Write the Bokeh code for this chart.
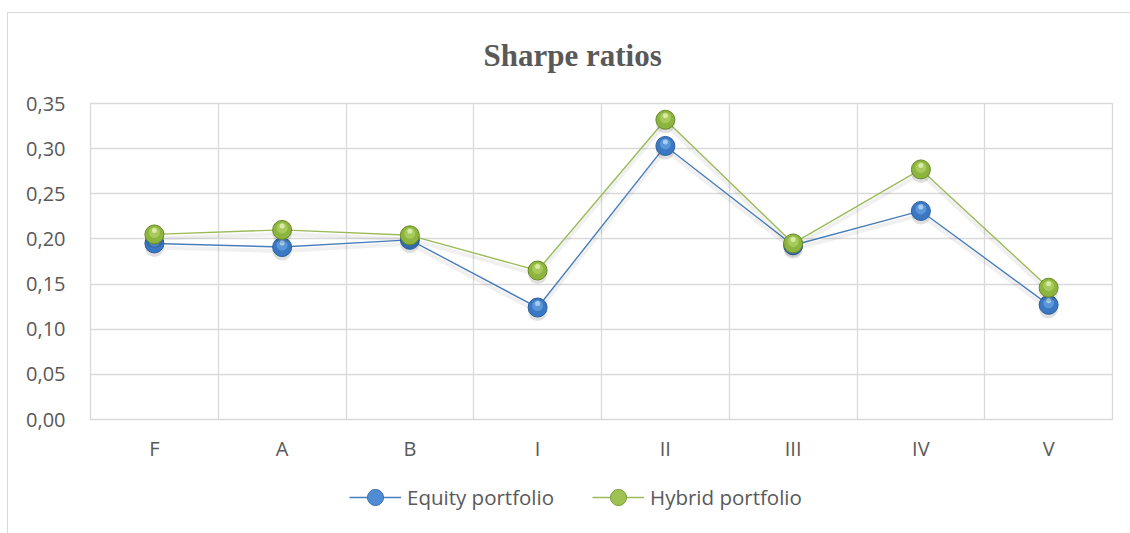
from bokeh.plotting import figure
from bokeh.models import (Range1d, FixedTicker, CustomJSTickFormatter, Legend,
                          LegendItem, InlineStyleSheet)
from bokeh.layouts import column
from bokeh.embed import file_html
from bokeh.resources import INLINE

categories = ["F", "A", "B", "I", "II", "III", "IV", "V"]
equity = [0.195, 0.191, 0.199, 0.124, 0.303, 0.193, 0.231, 0.127]
hybrid = [0.205, 0.210, 0.204, 0.165, 0.332, 0.195, 0.277, 0.146]
y_ticks = [0.0, 0.05, 0.10, 0.15, 0.20, 0.25, 0.30, 0.35]
title_text = "Sharpe ratios"
series_names = ["Equity portfolio", "Hybrid portfolio"]

W, H, HL = 1114, 465, 52
ML, MR, MT, MB = 90, 2, 103, 46
ymax = 0.35
frame_h = H - MT - MB
unit_per_px = ymax / frame_h

xs = [i + 0.5 for i in range(len(categories))]

p = figure(width=W, height=H, output_backend="svg", toolbar_location=None,
           x_range=Range1d(0, len(categories)), y_range=Range1d(0, ymax),
           min_border_left=ML, min_border_right=MR, min_border_top=MT,
           min_border_bottom=MB, background_fill_color="white",
           border_fill_color="white")
p.outline_line_color = "#d9d9d9"
p.outline_line_width = 1.3

p.title.text = title_text
p.title.align = "left"
p.title.offset = 393
p.title.standoff = 61
p.title.text_font = "Liberation Serif"
p.title.text_font_style = "bold"
p.title.text_font_size = "31px"
p.title.text_color = "#595959"

grid_col = "#d9d9d9"
p.xgrid.ticker = FixedTicker(ticks=list(range(len(categories) + 1)))
p.xgrid.grid_line_color = grid_col
p.xgrid.grid_line_width = 1.3
p.ygrid.grid_line_color = grid_col
p.ygrid.grid_line_width = 1.3

for ax in (p.xaxis[0], p.yaxis[0]):
    ax.axis_line_color = None
    ax.major_tick_line_color = None
    ax.minor_tick_line_color = None
    ax.major_label_text_font = "Open Sans"
    ax.major_label_text_font_size = "20px"
    ax.major_label_text_color = "#595959"

p.xaxis[0].ticker = FixedTicker(ticks=xs)
p.xaxis[0].formatter = CustomJSTickFormatter(args=dict(labels=categories),
                                             code="return labels[Math.round(tick - 0.5)];")
p.xaxis[0].major_label_standoff = 9
p.yaxis[0].ticker = FixedTicker(ticks=y_ticks)
p.yaxis[0].formatter = CustomJSTickFormatter(code="return tick.toFixed(2).replace('.', ',');")
p.yaxis[0].major_label_standoff = 19

styles = [
    dict(line="#4a7ebb", edge="#2b5f9e", base="#3a78c3", hi1="#6aa3e2", hi2="#b3d3f5"),
    dict(line="#9bbb59", edge="#6a8a2a", base="#8db43c", hi1="#b3d36a", hi2="#dcedae"),
]

# legend strip (separate figure so the legend is not clipped)
lg = figure(width=W, height=HL, output_backend="svg", toolbar_location=None,
            x_range=Range1d(0, 1), y_range=Range1d(0, 1),
            x_axis_type=None, y_axis_type=None,
            min_border_left=0, min_border_right=0, min_border_top=0, min_border_bottom=0,
            background_fill_color="white", border_fill_color="white")
lg.outline_line_color = None
lg.grid.visible = False

items = []
for name, vals, st in zip(series_names, [equity, hybrid], styles):
    shadow_y = [v - 4 * unit_per_px for v in vals]
    p.line(xs, shadow_y, line_color="#000000", line_alpha=0.06, line_width=4)
    p.line(xs, vals, line_color=st["line"], line_width=1.4)
    p.scatter(xs, shadow_y, size=19, fill_color="#000000", fill_alpha=0.12, line_color=None)
    p.scatter(xs, vals, size=19, fill_color=st["base"], line_color=st["edge"], line_width=1)
    hi_y1 = [v + 2 * unit_per_px for v in vals]
    hi_y2 = [v + 4 * unit_per_px for v in vals]
    p.scatter(xs, hi_y1, size=11, fill_color=st["hi1"], fill_alpha=0.7, line_color=None)
    p.scatter(xs, hi_y2, size=5, fill_color=st["hi2"], fill_alpha=0.9, line_color=None)

    # legend proxies (placed outside the visible range)
    ln = lg.line([-5, -4], [-5, -4], line_color=st["line"], line_width=1.4)
    c0 = lg.scatter([-5], [-5], size=19, fill_color=st["base"], line_color=st["edge"], line_width=1)
    c1 = lg.scatter([-5], [-5], size=11, fill_color=st["hi1"], fill_alpha=0.45, line_color=None)
    items.append(LegendItem(label=name, renderers=[ln, c0, c1]))

legend = Legend(items=items, location=(259, 0), orientation="horizontal",
                glyph_width=52, glyph_height=40, label_standoff=6, spacing=38,
                padding=0, margin=0, border_line_color=None,
                background_fill_alpha=0, label_text_font="Open Sans",
                label_text_font_size="20.5px", label_text_color="#595959")
lg.add_layout(legend, "center")

layout = column(p, lg, spacing=0)
layout.stylesheets = [InlineStyleSheet(css="""
:host { position: relative; }
:host::after {
  content: ""; position: absolute; left: 7px; top: 12px; right: -20px; bottom: -20px;
  border: 1.5px solid #d9d9d9; pointer-events: none; z-index: 10;
}
""")]

open("out.html", "w").write(file_html(layout, INLINE))
